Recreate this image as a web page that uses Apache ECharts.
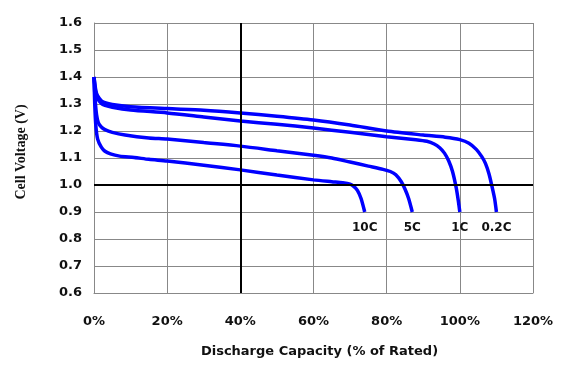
<!DOCTYPE html>
<html><head><meta charset="utf-8">
<script src="https://cdn.jsdelivr.net/npm/echarts@6/dist/echarts.min.js"></script>
<style>html,body{margin:0;padding:0;background:#fff}#c{width:561px;height:365px}</style>
</head><body><div id="c"></div>
<script>
const xTicks = [0, 20, 40, 60, 80, 100, 120];
const yTicks = [0.6, 0.7, 0.8, 0.9, 1.0, 1.1, 1.2, 1.3, 1.4, 1.5, 1.6];
const seriesNames = ['0.2C', '1C', '5C', '10C'];
const c02 = [[0,1.40],[0.5,1.35],[1,1.33],[2,1.312],[3,1.305],[5,1.298],[10,1.29],[20,1.283],[30,1.277],[40,1.267],[50,1.255],[60,1.241],[70,1.222],[80,1.200],[90,1.185],[96,1.177],[100,1.168],[102.5,1.155],[104.5,1.132],[106,1.105],[107,1.08],[108,1.04],[108.7,1.0],[109.5,0.95],[110,0.9]];
const c1 = [[0,1.40],[0.5,1.34],[1,1.32],[2,1.302],[3,1.295],[5,1.288],[10,1.278],[20,1.267],[30,1.252],[40,1.237],[50,1.225],[60,1.211],[70,1.195],[80,1.179],[88,1.168],[91,1.162],[93,1.152],[94.5,1.138],[95.8,1.118],[97,1.088],[98,1.05],[99,0.99],[99.6,0.94],[100,0.9]];
const c5 = [[0,1.40],[0.3,1.32],[0.7,1.26],[1.2,1.23],[2,1.215],[3,1.205],[5,1.195],[8.5,1.185],[15,1.174],[20,1.17],[30,1.157],[40,1.144],[50,1.127],[60,1.11],[65,1.10],[70,1.085],[75,1.07],[79,1.058],[81,1.05],[82.5,1.038],[84,1.012],[85,0.985],[86,0.95],[87,0.9]];
const c10 = [[0,1.40],[0.2,1.30],[0.5,1.22],[1,1.17],[2,1.14],[3,1.125],[4.5,1.115],[7,1.107],[11,1.102],[15,1.095],[20,1.089],[30,1.073],[40,1.056],[50,1.037],[60,1.019],[65,1.012],[68,1.008],[70,1.003],[71,0.995],[72,0.98],[73,0.95],[74,0.9]];
const curves = [c02, c1, c5, c10];

const chart = echarts.init(document.getElementById('c'), null, {renderer: 'canvas'});
const lab = {fontFamily: 'DejaVu Sans', fontWeight: 'bold', fontSize: 13, color: '#111'};
const series = curves.map((d, i) => ({
  type: 'line', name: seriesNames[i], z: 3, smooth: 0.25, symbol: 'none',
  lineStyle: {color: '#0000ff', width: 3.5},
  data: d.map((p, j) => j === d.length - 1 ? {
    value: p, symbol: 'circle', symbolSize: 0,
    label: {show: true, position: 'bottom', distance: 10, formatter: seriesNames[i],
      fontFamily: 'DejaVu Sans', fontWeight: 'bold', fontSize: 12, color: '#111'}
  } : p)
}));
series.push({
  type: 'line', data: [], z: 1,
  markLine: {silent: true, symbol: ['none', 'none'], label: {show: false},
    lineStyle: {color: '#000', width: 2, type: 'solid'},
    data: [{xAxis: 40}, {yAxis: 1.0}]}
});
chart.setOption({
  animation: false,
  grid: {left: 94, right: 28, top: 23, bottom: 72},
  xAxis: {
    type: 'value', min: xTicks[0], max: xTicks[xTicks.length - 1], interval: 20,
    axisLine: {lineStyle: {color: '#888'}}, axisTick: {show: false},
    axisLabel: Object.assign({formatter: '{value}%', margin: 22}, lab),
    splitLine: {show: true, lineStyle: {color: '#888', width: 1}},
    name: 'Discharge Capacity (% of Rated)', nameLocation: 'middle', nameGap: 52,
    nameTextStyle: {fontFamily: 'DejaVu Sans', fontWeight: 'bold', fontSize: 13, color: '#111', padding: [0, 0, 0, 12]}
  },
  yAxis: {
    type: 'value', min: yTicks[0], max: yTicks[yTicks.length - 1], interval: 0.1,
    axisLine: {show: true, lineStyle: {color: '#888'}}, axisTick: {show: false},
    axisLabel: Object.assign({formatter: v => v.toFixed(1), margin: 12}, lab),
    splitLine: {show: true, lineStyle: {color: '#888', width: 1}},
    name: 'Cell Voltage (V)', nameLocation: 'middle', nameGap: 66, nameRotate: 90,
    nameTextStyle: {fontFamily: 'Liberation Serif', fontWeight: 'bold', fontSize: 14, color: '#111', padding: [0, 0, 0, 12]}
  },
  series: series
});
</script></body></html>
